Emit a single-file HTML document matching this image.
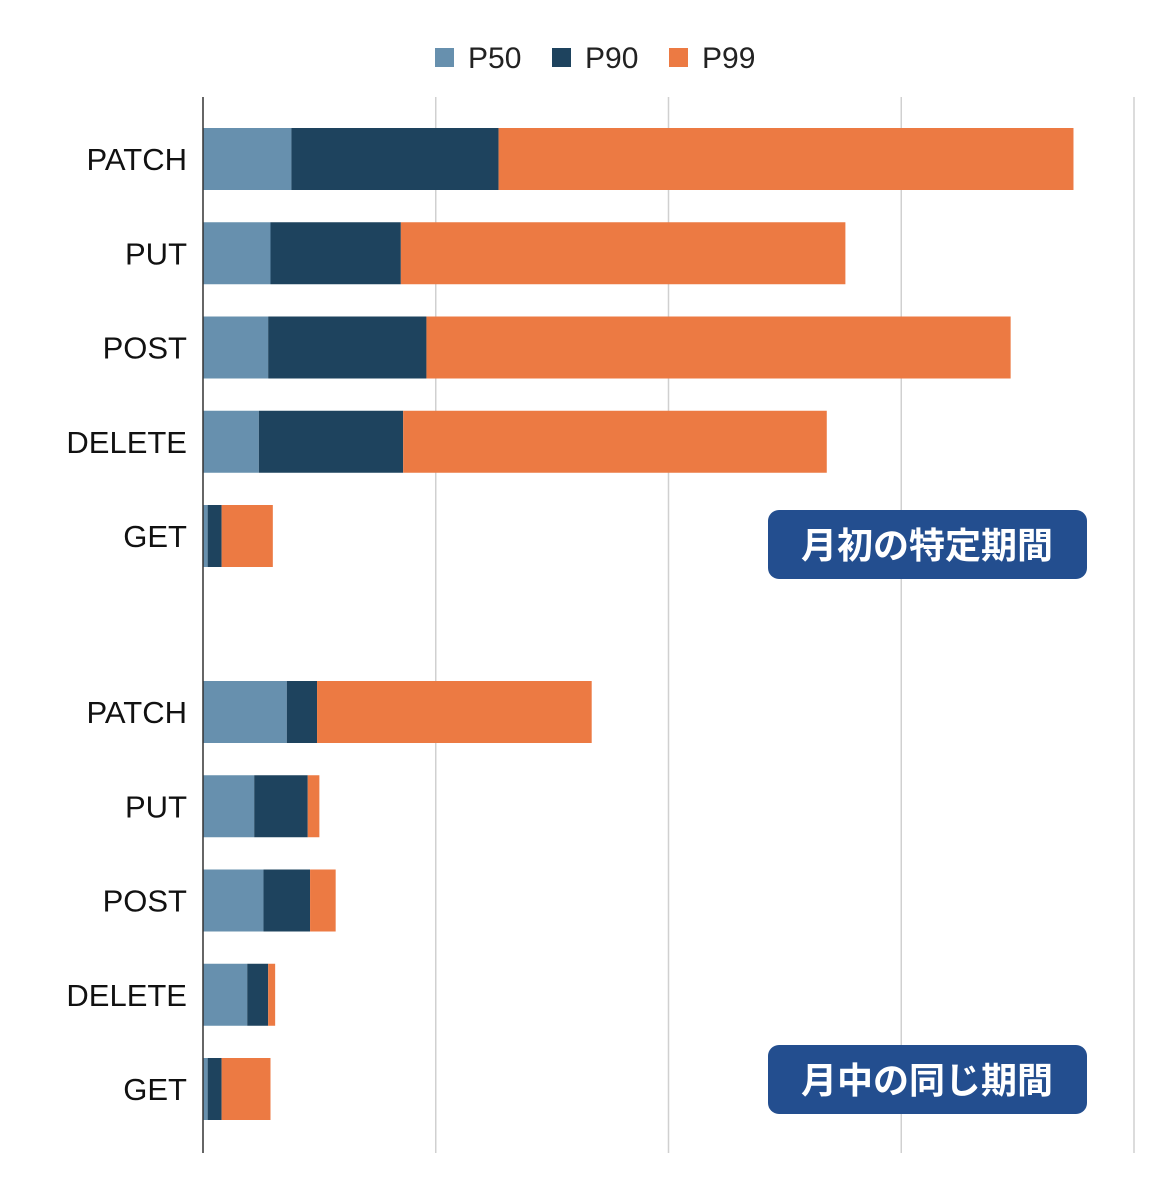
<!DOCTYPE html>
<html><head><meta charset="utf-8"><style>
body{margin:0;background:#fff;}
svg{display:block;font-family:"Liberation Sans","Noto Sans CJK JP",sans-serif;}
</style></head><body>
<svg id="chart" width="1163" height="1200"></svg>
<script>
const categories = ["PATCH","PUT","POST","DELETE","GET"];
const groupLabels = ["月初の特定期間","月中の同じ期間"];
const seriesNames = ["P50","P90","P99"];
const seriesColors = ["#6790ae","#1e435e","#ec7a43"];
// segment values per group, order matches categories
const topP50 = [38,29,28,24,2];
const topP90 = [89,56,68,62,6];
const topP99 = [247,191,251,182,22];
const botP50 = [36,22,26,19,2];
const botP90 = [13,23,20,9,6];
const botP99 = [118,5,11,3,21];
const gridTicks = [0,100,200,300,400];

const NS="http://www.w3.org/2000/svg";
const svg=document.getElementById('chart');
function mk(tag,attrs,parent){const e=document.createElementNS(NS,tag);for(const k in attrs)e.setAttribute(k,attrs[k]);(parent||svg).appendChild(e);return e;}
const x0=203, unit=2.3275;
const xs=v=>x0+v*unit;
const groupStarts=[159,712], step=94.25, barH=62;

gridTicks.forEach((t,i)=>{
  if(i===0)return;
  const l=mk('line',{x1:xs(t),x2:xs(t),y1:97,y2:1153,stroke:'#d0d0d0','stroke-width':1.5});
  
  
});

const groups=[[topP50,topP90,topP99],[botP50,botP90,botP99]];
groups.forEach((g,gi)=>{
  categories.forEach((c,ci)=>{
    const cy=groupStarts[gi]+ci*step;
    const lab=mk('text',{x:187,y:cy+11,'text-anchor':'end','font-size':31,fill:'#111'});
    lab.textContent=c;
    
    
    let cum=0;
    g.forEach((arr,si)=>{
      const v=arr[ci];
      const r=mk('rect',{x:xs(cum),y:cy-barH/2,width:v*unit,height:barH,fill:seriesColors[si]});
      
      
      cum+=v;
    });
  });
  const by=gi===0?510:1045;
  const box=mk('rect',{x:768,y:by,width:319,height:69,rx:11,fill:'#234e8f'});
  
  
  const bt=mk('text',{x:927,y:by+48,'text-anchor':'middle','font-size':36,'font-weight':'bold',fill:'#fff'});
  bt.textContent=groupLabels[gi];
  
  
});

const ax=mk('line',{x1:x0,x2:x0,y1:97,y2:1153,stroke:'#333','stroke-width':1.5});



const legX=[435,552,669];
seriesNames.forEach((s,i)=>{
  const r=mk('rect',{x:legX[i],y:48,width:19,height:19,fill:seriesColors[i]});
  
  
  const t=mk('text',{x:legX[i]+33,y:68,'font-size':30,fill:'#222'});
  t.textContent=s;
  
  
});
</script>
</body></html>
